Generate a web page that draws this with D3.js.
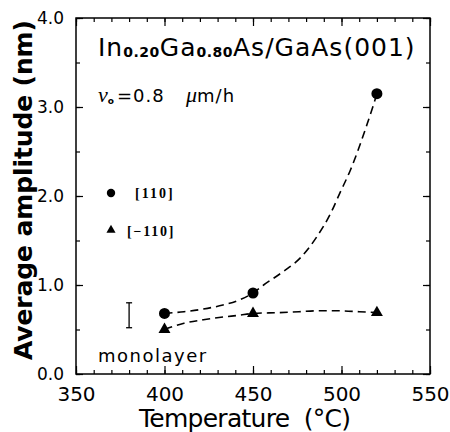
<!DOCTYPE html>
<html>
<head>
<meta charset="utf-8">
<script src="https://cdn.jsdelivr.net/npm/d3@7"></script>
<style>
  body { margin: 0; background: #fff; }
  svg { display: block; font-family: 'DejaVu Sans', sans-serif; }
</style>
</head>
<body>
<div id="chart"></div>
<script>
// measured points
var temps = [400, 450, 520];
var amp110 = [0.68, 0.91, 3.15];
var ampM110 = [0.50, 0.68, 0.69];

// dashed guide curves
var fit110 = [[400, 0.68], [411, 0.70], [422, 0.73], [433, 0.775], [442, 0.83], [450, 0.91],
  [456, 1.0], [467, 1.15], [477, 1.31], [486, 1.54], [494, 1.81], [499, 2.03],
  [505, 2.29], [510, 2.55], [514, 2.78], [518, 3.02], [520, 3.15]];
var fitM110 = [[400, 0.50], [411, 0.57], [422, 0.61], [433, 0.64], [442, 0.66], [450, 0.68],
  [465, 0.69], [476, 0.70], [487, 0.71], [498, 0.71], [510, 0.70], [520, 0.69]];

// monolayer bar
var monolayer = { t: 380, lo: 0.52, hi: 0.80 };

var xTicks = [350, 400, 450, 500, 550];
var xMinor = d3.range(350, 551, 10);
var yTicks = [0, 1, 2, 3, 4];
var yMinor = d3.range(0, 4.01, 0.5);

var W = 450, H = 432;
var box = { left: 76, top: 18, right: 430, bottom: 374 };

var svg = d3.select('#chart').append('svg').attr('width', W).attr('height', H);

var x = d3.scaleLinear().domain([350, 550]).range([box.left, box.right]);
var y = d3.scaleLinear().domain([0, 4]).range([box.bottom, box.top]);

function strip(g) {
  g.select('.domain').remove();
  g.selectAll('line').attr('stroke', '#000').attr('stroke-width', 1.2);
}

// minor ticks on all four sides
svg.append('g').attr('transform', 'translate(0,' + box.bottom + ')')
  .call(d3.axisBottom(x).tickValues(xMinor).tickSize(-4).tickFormat(''))
  .call(strip);
svg.append('g').attr('transform', 'translate(0,' + box.top + ')')
  .call(d3.axisTop(x).tickValues(xMinor).tickSize(-4).tickFormat(''))
  .call(strip);
svg.append('g').attr('transform', 'translate(' + box.left + ',0)')
  .call(d3.axisLeft(y).tickValues(yMinor).tickSize(-4).tickFormat(''))
  .call(strip);
svg.append('g').attr('transform', 'translate(' + box.right + ',0)')
  .call(d3.axisRight(y).tickValues(yMinor).tickSize(-4).tickFormat(''))
  .call(strip);

// major ticks + labels
var xAxis = svg.append('g').attr('transform', 'translate(0,' + box.bottom + ')')
  .call(d3.axisBottom(x).tickValues(xTicks).tickSizeInner(-8).tickSizeOuter(0).tickPadding(13))
  .call(strip);
xAxis.selectAll('text').attr('font-size', 20).attr('font-family', 'DejaVu Sans').attr('fill', '#000');

svg.append('g').attr('transform', 'translate(0,' + box.top + ')')
  .call(d3.axisTop(x).tickValues(xTicks).tickSize(-8).tickFormat(''))
  .call(strip);

var yAxis = svg.append('g').attr('transform', 'translate(' + box.left + ',0)')
  .call(d3.axisLeft(y).tickValues(yTicks).tickSizeInner(-7).tickSizeOuter(0).tickPadding(12)
    .tickFormat(d3.format('.1f')))
  .call(strip);
yAxis.selectAll('text').attr('font-size', 17).attr('font-family', 'DejaVu Sans').attr('fill', '#000');

svg.append('g').attr('transform', 'translate(' + box.right + ',0)')
  .call(d3.axisRight(y).tickValues(yTicks).tickSize(-7).tickFormat(''))
  .call(strip);

// frame
svg.append('rect')
  .attr('x', box.left).attr('y', box.top)
  .attr('width', box.right - box.left).attr('height', box.bottom - box.top)
  .attr('fill', 'none').attr('stroke', '#000').attr('stroke-width', 1.5);

// axis titles
svg.append('text')
  .attr('transform', 'translate(32,' + 190 + ') rotate(-90)')
  .attr('text-anchor', 'middle')
  .attr('font-size', 25).attr('font-weight', 'bold')
  .attr('textLength', 340).attr('lengthAdjust', 'spacing')
  .text('Average amplitude (nm)');

svg.append('text')
  .attr('x', 245).attr('y', 427)
  .attr('text-anchor', 'middle')
  .attr('font-size', 25)
  .attr('textLength', 212).attr('lengthAdjust', 'spacing')
  .style('white-space', 'pre')
  .text('Temperature  (°C)');

// guide curves
var line = d3.line()
  .x(d => x(d[0]))
  .y(d => y(d[1]))
  .curve(d3.curveMonotoneX);

[fit110, fitM110].forEach(function(pts) {
  svg.append('path')
    .attr('d', line(pts))
    .attr('fill', 'none')
    .attr('stroke', '#000')
    .attr('stroke-width', 1.6)
    .attr('stroke-dasharray', '8,5');
});

// markers
svg.selectAll('circle.p110')
  .data(temps)
  .enter()
  .append('circle')
  .attr('class', 'p110')
  .attr('cx', d => x(d))
  .attr('cy', (d, i) => y(amp110[i]))
  .attr('r', 5.5)
  .attr('fill', '#000');

svg.selectAll('path.pm110')
  .data(temps)
  .enter()
  .append('path')
  .attr('class', 'pm110')
  .attr('d', d3.symbol().type(d3.symbolTriangle).size(62))
  .attr('transform', (d, i) => 'translate(' + x(d) + ',' + y(ampM110[i]) + ')')
  .attr('fill', '#000');

// monolayer error bar
var bar = svg.append('g').attr('stroke', '#000').attr('stroke-width', 1.3);
bar.append('line')
  .attr('x1', x(monolayer.t)).attr('x2', x(monolayer.t))
  .attr('y1', y(monolayer.lo)).attr('y2', y(monolayer.hi));
[monolayer.lo, monolayer.hi].forEach(function(v) {
  bar.append('line')
    .attr('x1', x(monolayer.t) - 3).attr('x2', x(monolayer.t) + 3)
    .attr('y1', y(v)).attr('y2', y(v));
});

svg.append('text')
  .attr('x', 98).attr('y', 362)
  .attr('font-size', 18)
  .attr('letter-spacing', 1.5)
  .text('monolayer');

// legend
svg.append('circle').attr('cx', 111).attr('cy', 193).attr('r', 4.2).attr('fill', '#000');
svg.append('text')
  .attr('x', 135).attr('y', 198)
  .attr('font-family', 'Liberation Serif').attr('font-weight', 'bold')
  .attr('font-size', 14).attr('letter-spacing', 2)
  .text('[110]');
svg.append('path')
  .attr('d', d3.symbol().type(d3.symbolTriangle).size(36))
  .attr('transform', 'translate(111,230)')
  .attr('fill', '#000');
svg.append('text')
  .attr('x', 127).attr('y', 235.5)
  .attr('font-family', 'Liberation Serif').attr('font-weight', 'bold')
  .attr('font-size', 14).attr('letter-spacing', 1.8)
  .text('[\u2212110]');

// title
var title = svg.append('text')
  .attr('x', 98).attr('y', 56)
  .attr('font-size', 25)
  .attr('letter-spacing', 1);
title.append('tspan').text('In');
title.append('tspan').attr('font-size', 14).attr('font-weight', 'bold').attr('dy', 1).attr('letter-spacing', 0.5).text('0.20');
title.append('tspan').attr('dy', -1).text('Ga');
title.append('tspan').attr('font-size', 14).attr('font-weight', 'bold').attr('dy', 1).attr('letter-spacing', 0.5).text('0.80');
title.append('tspan').attr('dy', -1).text('As/GaAs(001)');

var rate = svg.append('text').attr('y', 102).attr('font-size', 18);
rate.append('tspan').attr('x', 98)
  .attr('font-family', 'Liberation Serif').attr('font-style', 'italic').attr('font-size', 22)
  .text('\u03bd');
rate.append('tspan').attr('font-size', 9).attr('dy', 2).attr('font-weight', 'bold').text('o');
rate.append('tspan').attr('x', 117).attr('dy', -2).attr('letter-spacing', 1).text('=0.8');
rate.append('tspan').attr('x', 186)
  .attr('font-family', 'Liberation Serif').attr('font-style', 'italic').attr('font-size', 22)
  .text('\u03bc');
rate.append('tspan').attr('letter-spacing', 1).text('m/h');
</script>
</body>
</html>
